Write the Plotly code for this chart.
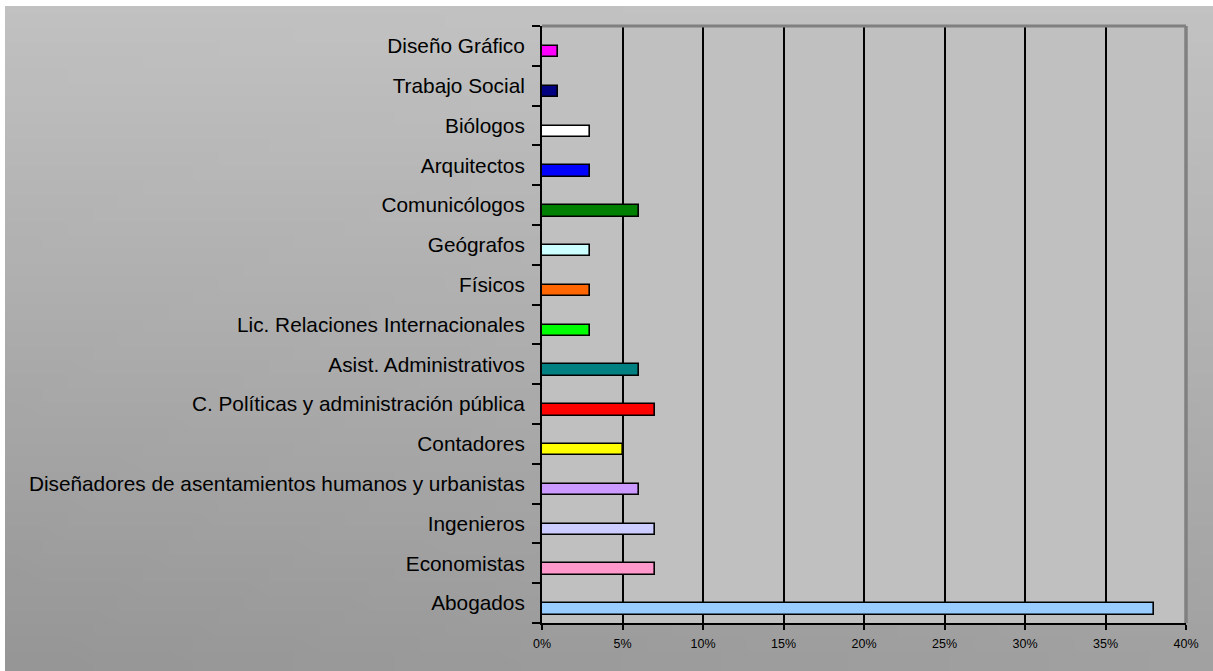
import base64, struct, zlib
import plotly.graph_objects as go

# ---- data ----
categories = [
    "Abogados", "Economistas", "Ingenieros",
    "Diseñadores de asentamientos humanos y urbanistas", "Contadores",
    "C. Políticas y administración pública", "Asist. Administrativos",
    "Lic. Relaciones Internacionales", "Físicos", "Geógrafos",
    "Comunicólogos", "Arquitectos", "Biólogos", "Trabajo Social",
    "Diseño Gráfico",
]
values = [0.38, 0.07, 0.07, 0.06, 0.05, 0.07, 0.06, 0.03, 0.03, 0.03,
          0.06, 0.03, 0.03, 0.01, 0.01]
colors = ["#99ccff", "#ff99cc", "#ccccff", "#cc99ff", "#ffff00", "#ff0000",
          "#008080", "#00ff00", "#ff6600", "#ccffff", "#008000", "#0000ff",
          "#ffffff", "#000080", "#ff00ff"]
x_ticks = [0, 0.05, 0.10, 0.15, 0.20, 0.25, 0.30, 0.35, 0.40]

# ---- background gradient image (styling only) ----
def gradient_png(w=48, h=48):
    tl, tr, bl, br = 193, 194, 150, 161
    raw = b""
    for j in range(h):
        v = j / (h - 1)
        row = bytearray([0])
        for i in range(w):
            u = i / (w - 1)
            top = tl + (tr - tl) * u
            bot = bl + (br - bl) * u
            row.append(int(round(top + (bot - top) * v)))
        raw += bytes(row)
    def chunk(t, d):
        c = struct.pack(">I", len(d)) + t + d
        return c + struct.pack(">I", zlib.crc32(t + d) & 0xffffffff)
    png = b"\x89PNG\r\n\x1a\n"
    png += chunk(b"IHDR", struct.pack(">IIBBBBB", w, h, 8, 0, 0, 0, 0))
    png += chunk(b"IDAT", zlib.compress(raw))
    png += chunk(b"IEND", b"")
    return "data:image/png;base64," + base64.b64encode(png).decode()

W, H = 1213, 671
L, R, T, B = 542, 27, 26, 48
pw, ph = W - L - R, H - T - B
def px(xp):
    return (xp - L) / pw
def py(yp):
    return (H - B - yp) / ph

fig = go.Figure()
fig.add_trace(go.Bar(
    y=categories, x=values, orientation="h",
    marker=dict(color=colors, line=dict(color="black", width=1.6)),
    width=0.29, offset=-0.29,
    hoverinfo="x+y",
))

font = "Liberation Sans, Arial, sans-serif"
fig.update_layout(
    width=W, height=H,
    margin=dict(l=L, r=R, t=T, b=B, pad=0),
    paper_bgcolor="white",
    plot_bgcolor="rgba(0,0,0,0)",
    showlegend=False,
    bargap=0,
    font=dict(family=font, color="black"),
    images=[dict(
        source=gradient_png(), xref="paper", yref="paper",
        x=px(5), y=py(6), sizex=px(W) - px(5), sizey=py(6) - py(H),
        xanchor="left", yanchor="top", sizing="stretch", layer="below",
    )],
    shapes=[
        dict(type="rect", xref="paper", yref="paper", x0=0, x1=1, y0=0, y1=1,
             fillcolor="#c0c0c0", line=dict(width=0), layer="below"),
        dict(type="line", xref="paper", yref="paper", x0=0, x1=1, y0=1, y1=1,
             line=dict(color="#808080", width=3), layer="above"),
        dict(type="line", xref="paper", yref="paper", x0=1, x1=1, y0=0, y1=1,
             line=dict(color="#808080", width=3.5), layer="above"),
    ],
    xaxis=dict(
        range=[0, 0.4], tickvals=x_ticks, tickformat=".0%",
        showgrid=True, gridcolor="black", gridwidth=2,
        zeroline=False, showline=True, linecolor="black", linewidth=2,
        ticks="outside", ticklen=5, tickwidth=2, tickcolor="black",
        ticklabelstandoff=3,
        tickfont=dict(size=12.5, family=font, color="black"),
        fixedrange=True,
    ),
    yaxis=dict(
        type="category", categoryorder="array", categoryarray=categories,
        range=[-0.5, len(categories) - 0.5],
        showgrid=False, zeroline=False,
        showline=True, linecolor="black", linewidth=2,
        ticks="outside", ticklen=8, tickwidth=2, tickcolor="black",
        tickson="boundaries", ticklabelstandoff=11,
        tickfont=dict(size=20.8, family=font, color="black"),
        fixedrange=True,
    ),
)

fig.write_html(
    "out.html",
    config={"displayModeBar": False},
    post_script="document.body.style.margin='0px';document.body.style.overflow='hidden';",
)
